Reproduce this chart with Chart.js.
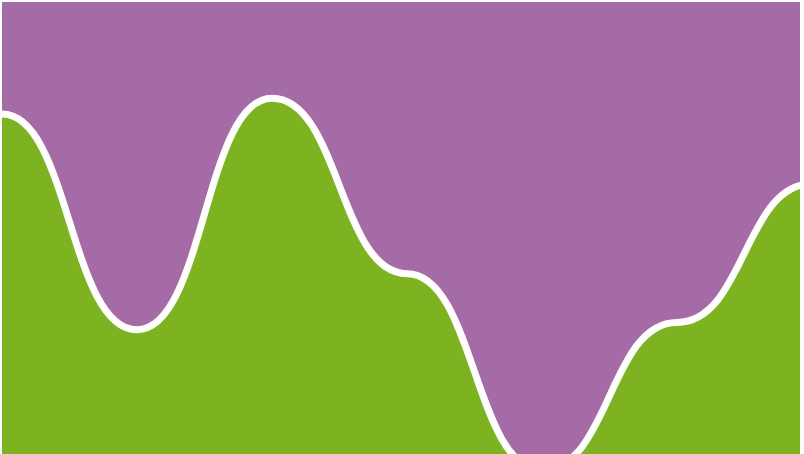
<!DOCTYPE html>
<html>
<head>
<meta charset="utf-8">
<script src="https://cdn.jsdelivr.net/npm/chart.js@4/dist/chart.umd.min.js"></script>
<style>
    html, body { margin: 0; padding: 0; background: #ffffff; overflow: hidden; }
    #clip { position: absolute; left: 2px; top: 2px; width: 798px; height: 452px; overflow: hidden; }
    #box { position: relative; width: 810px; height: 452px; }
    #areaChart { background: #a56ba6; }
</style>
</head>
<body>
<div id="clip"><div id="box"><canvas id="areaChart"></canvas></div></div>
<script>
var labels = ["1", "2", "3", "4", "5", "6", "7"];
var values = [75.2, 27.5, 78.7, 39.9, -3.5, 29.1, 59.8];
var yMin = 0;
var yMax = 100;

// flat tangents at every point (horizontal "bump" curve)
var bumpCurve = {
    id: "bumpCurve",
    beforeDraw: function (chart) {
        chart.getSortedVisibleDatasetMetas().forEach(function (meta) {
            meta.dataset.updateControlPoints(chart.chartArea, "x");
            var pts = meta.data;
            for (var i = 0; i < pts.length; i++) {
                var p = pts[i];
                var prev = pts[i - 1] || p;
                var next = pts[i + 1] || p;
                p.cp1x = p.x - (p.x - prev.x) / 2;
                p.cp1y = p.y;
                p.cp2x = p.x + (next.x - p.x) / 2;
                p.cp2y = p.y;
            }
        });
    },
};

document.addEventListener("DOMContentLoaded", function () {
    var ctx = document.getElementById("areaChart").getContext("2d");

    var areaChart = new Chart(ctx, {
        type: "line",
        data: {
            labels: labels,
            datasets: [
                {
                    data: values,
                    backgroundColor: "#7db221",
                    borderColor: "#ffffff",
                    borderWidth: 7,
                    pointRadius: 0,
                    tension: 0.4,
                    fill: "start",
                },
            ],
        },
        options: {
            responsive: true,
            maintainAspectRatio: false,
            animation: false,
            layout: { padding: 0 },
            plugins: {
                legend: { display: false },
                tooltip: { enabled: false },
            },
            scales: {
                x: { display: false, offset: false },
                y: { display: false, min: yMin, max: yMax },
            },
        },
        plugins: [bumpCurve],
    });
});
</script>
</body>
</html>
